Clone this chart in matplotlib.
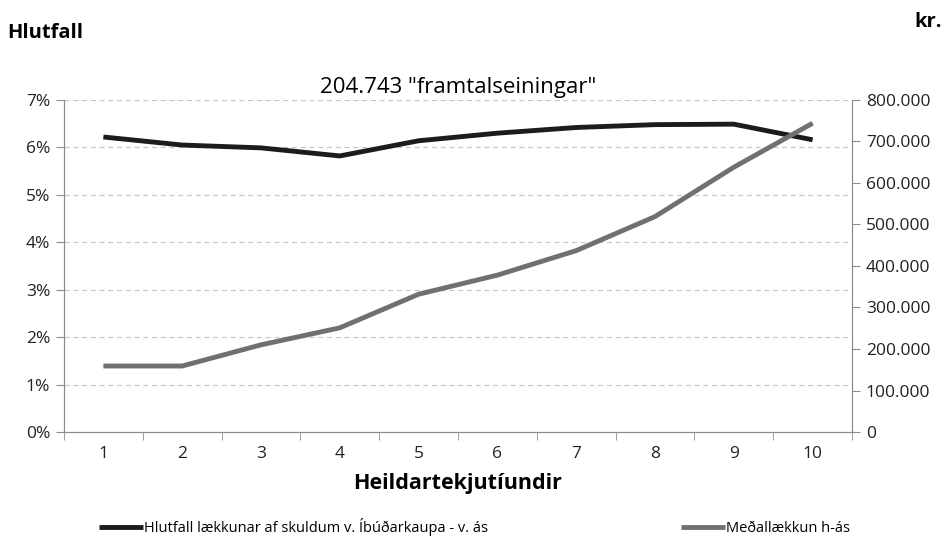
import matplotlib
matplotlib.use("Agg")
import matplotlib.pyplot as plt
from matplotlib.ticker import FuncFormatter, FixedLocator

plt.rcParams['font.family'] = ['Open Sans', 'DejaVu Sans']

deciles = [1, 2, 3, 4, 5, 6, 7, 8, 9, 10]
hlutfall = [6.22, 6.05, 5.99, 5.82, 6.14, 6.30, 6.42, 6.48, 6.49, 6.16]
medal = [159000, 159000, 210000, 251000, 332000, 378000, 437000, 519000, 638000, 744000]

black = "#1c1c1c"
grey = "#707070"
axcol = "#8c8c8c"

fig = plt.figure(figsize=(9.45, 5.49), dpi=100)
ax = fig.add_axes([0.0677, 0.2131, 0.8339, 0.6048])
ax2 = ax.twinx()

l1, = ax.plot(deciles, hlutfall, color=black, lw=3.5, solid_capstyle="butt",
              label="Hlutfall lækkunar af skuldum v. Íbúðarkaupa - v. ás", zorder=3)
l2, = ax2.plot(deciles, medal, color=grey, lw=3.5, solid_capstyle="butt",
               label="Meðallækkun h-ás", zorder=3)

ax.set_xlim(0.5, 10.5)
ax.set_ylim(0, 7)
ax2.set_ylim(0, 800000)
ax.set_xticks(deciles)
ax.xaxis.set_minor_locator(FixedLocator([x + 0.5 for x in range(0, 11)]))
ax.tick_params(axis="x", which="major", length=0, pad=10)
ax.tick_params(axis="x", which="minor", length=6, color=axcol, direction="out")
ax.set_yticks(range(0, 8))
ax.yaxis.set_major_formatter(FuncFormatter(lambda v, p: f"{int(v)}%"))
ax.tick_params(axis="y", length=6, color=axcol, direction="out", pad=4)
ax2.set_yticks(range(0, 800001, 100000))
ax2.yaxis.set_major_formatter(FuncFormatter(lambda v, p: f"{int(v):,}".replace(",", ".")))
ax2.tick_params(axis="y", length=6, color=axcol, direction="out", pad=4)

for a in (ax, ax2):
    a.tick_params(labelsize=12.5, labelcolor="#222222")
    a.spines["top"].set_visible(False)
    for s in ("left", "right", "bottom"):
        a.spines[s].set_color(axcol)

ax.grid(axis="y", linestyle=(0, (4, 3)), color="#c8c8c8", lw=0.9)
ax.set_axisbelow(True)

ax.set_title('204.743 "framtalseiningar"', fontsize=16, pad=5)
ax.set_xlabel("Heildartekjutíundir", fontsize=15.5, fontweight="bold", labelpad=8)
fig.text(0.008, 0.94, "Hlutfall", fontsize=14.5, fontweight="bold", va="center")
fig.text(0.997, 0.96, "kr.", fontsize=14.5, fontweight="bold", va="center", ha="right")

fig.legend(handles=[l1, l2], loc="center left", bbox_to_anchor=(0.105, 0.04), ncol=2,
           frameon=False, fontsize=10.5, handlelength=3.0, handletextpad=0.1,
           columnspacing=13.2, borderpad=0, borderaxespad=0)

fig.savefig("out.png", dpi=100)
